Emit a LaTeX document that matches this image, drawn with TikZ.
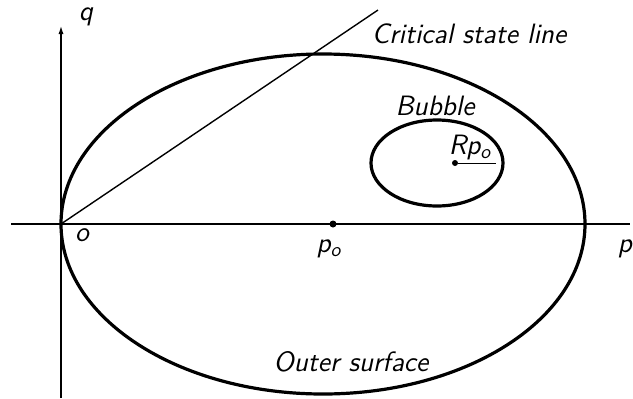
\documentclass[tikz,border=0pt]{standalone}
\usepackage{tikz}
\usetikzlibrary{arrows.meta}

\begin{document}
\begin{tikzpicture}[
  x=0.5pt,y=-0.5pt,
  lbl/.style={font=\sffamily\itshape\fontsize{14}{17}\selectfont,inner sep=0pt},
  surf/.style={line width=1.6pt},
  axis/.style={line width=0.9pt},
  dot/.style={circle,fill,inner sep=0pt,minimum size=3.5pt}
]
\useasboundingbox (0,0) rectangle (633,398);

\coordinate (o) at (61,224);
\coordinate (pleft) at (11,224);
\coordinate (pright) at (630,224);
\coordinate (qtop) at (61,25);
\coordinate (qbot) at (61,398);
\coordinate (cslend) at (378,10);

% axes
\draw[axis] (pleft) -- (pright);
\draw[axis,-{Latex[length=4.5pt,width=2.5pt]}] (qbot) -- (qtop);

% critical state line
\draw[line width=0.7pt] (o) -- (cslend);

% outer surface and bubble
\draw[surf] (323,224) ellipse [x radius=262,y radius=170];
\draw[surf] (437,163) ellipse [x radius=66,y radius=43];

\node[dot] (po) at (333,224) {};
\node[dot,minimum size=3pt] (rpo) at (455,163) {};
\coordinate (rpoend) at (496,163);
\draw[line width=0.5pt] (rpo) -- (rpoend);

% labels
\node[lbl] (qlab) at (86,17) {q};
\node[lbl] (csl) at (469,34) {Critical state line};
\node[lbl] (bubble) at (435,106) {Bubble};
\node[lbl] (rpolab) at (470,147) {Rp\textsubscript{o}};
\node[lbl] (olab) at (82,235) {o};
\node[lbl] (polab) at (329,249) {p\textsubscript{o}};
\node[lbl] (plab) at (625,249) {p};
\node[lbl] (outer) at (351,362) {Outer surface};
\end{tikzpicture}
\end{document}
